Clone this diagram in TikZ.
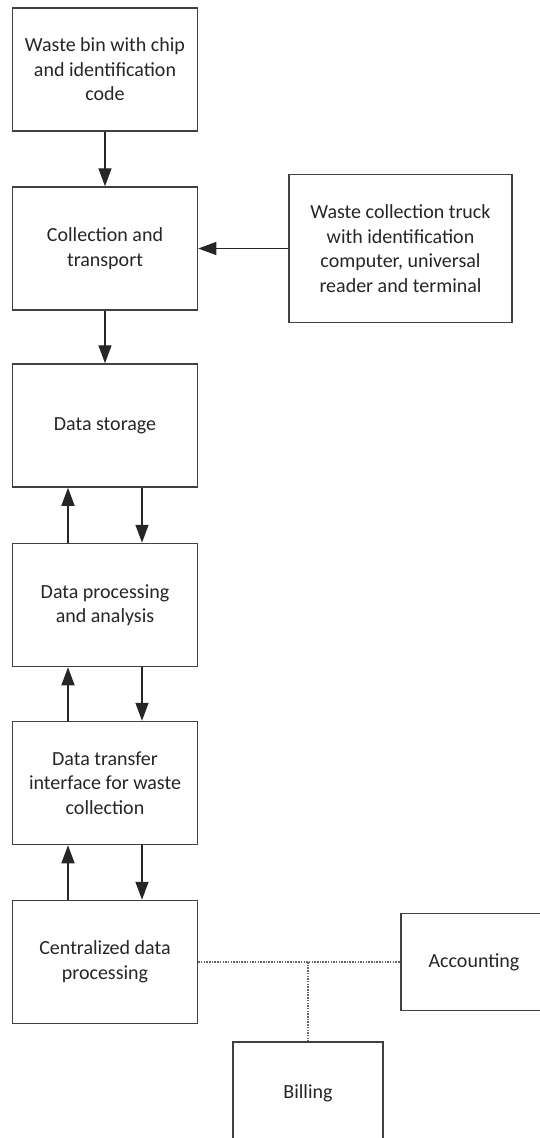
\documentclass[tikz,border=0pt]{standalone}
\usepackage{fontspec}
\setmainfont{Carlito}
\usetikzlibrary{arrows.meta}
\tikzset{
	blk/.style={draw=black!75, line width=1.5pt, fill=white, minimum width=185pt, minimum height=123pt,
		align=center, text=black!85, font=\fontsize{20}{24.5}\selectfont, inner sep=0pt},
	flow/.style={-{Triangle[length=18pt,width=13pt]}, line width=1.4pt, color=black!85},
	link/.style={dash pattern=on 1.5pt off 1.2pt, line width=1.4pt, draw=black!60}
}
\begin{document}
\begin{tikzpicture}[x=1pt,y=-1pt]
		\useasboundingbox (0,0) rectangle (539,1138);
		\node[blk] (bin) at (105,69.5) {Waste bin with chip\\and identification\\code};
		\node[blk] (collect) at (105,248.5) {Collection and\\transport};
		\node[blk, minimum width=223pt, minimum height=148pt] (truck) at (400.5,248.5)
			{Waste collection truck\\with identification\\computer, universal\\reader and terminal};
		\node[blk] (store) at (105,425.5) {Data storage};
		\node[blk] (proc) at (105,605) {Data processing\\and analysis};
		\node[blk] (xfer) at (105,783) {Data transfer\\interface for waste\\collection};
		\node[blk] (central) at (105,962) {Centralized data\\processing};
		\node[blk, minimum width=146pt, minimum height=97pt] (acct) at (474,962) {Accounting};
		\node[blk, minimum width=150pt, minimum height=102pt] (bill) at (308,1093) {Billing};
		\coordinate (tee) at (308,962);
		\path[flow]
		(bin) edge (collect)
		(truck.west) edge (collect.east)
		(collect) edge (store)
		([xshift=-37pt]proc.north) edge ([xshift=-37pt]store.south)
		([xshift=37pt]store.south) edge ([xshift=37pt]proc.north)
		([xshift=-37pt]xfer.north) edge ([xshift=-37pt]proc.south)
		([xshift=37pt]proc.south) edge ([xshift=37pt]xfer.north)
		([xshift=-37pt]central.north) edge ([xshift=-37pt]xfer.south)
		([xshift=37pt]xfer.south) edge ([xshift=37pt]central.north);
		\draw[link] (central.east) -- (acct.west);
		\draw[link] (tee) -- (bill.north);
\end{tikzpicture}
\end{document}
